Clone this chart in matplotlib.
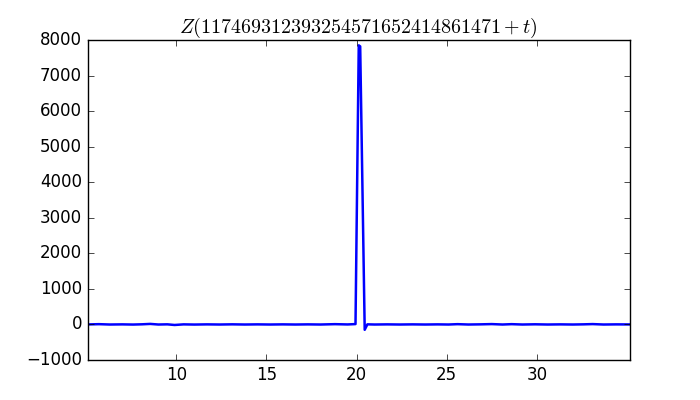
import matplotlib
matplotlib.use("Agg")
import matplotlib.pyplot as plt

plt.style.use("classic")

t = [5.07, 5.7, 6.3, 7.0, 7.6, 8.1, 8.55, 9.0, 9.5, 9.9, 10.4, 11.0, 11.7, 12.4, 13.1,
     13.8, 14.5, 15.2, 15.9, 16.6, 17.3, 18.0, 18.8, 19.5, 19.94, 20.12, 20.2, 20.45,
     20.6, 21.0, 21.7, 22.4, 23.1, 23.8, 24.5, 25.1, 25.6, 26.2, 26.9, 27.5, 28.1, 28.6,
     29.2, 29.9, 30.6, 31.3, 32.0, 32.6, 33.1, 33.7, 34.4, 35.17]
z = [0, 8, -2, 2, -3, 4, 15, -2, 3, -15, 2, -3, 2, -2, 3,
     -2, 2, -2, 2, -2, 2, -2, 8, 0, 10, 7850, 7820, -150,
     3, -2, 2, -2, 2, -2, 2, -2, 8, -2, 3, 10, -2, 8,
     -2, 4, -2, 2, -2, 3, 10, -2, 2, 0]

fig = plt.figure(figsize=(7, 4), dpi=100)
ax = fig.add_subplot(111)
ax.plot(t, z, color="b", linewidth=1.8)
ax.set_xlim(t[0], t[-1])
ax.set_ylim(-1000, 8000)
ax.set_xticks([10, 15, 20, 25, 30])
ax.set_yticks(range(-1000, 8001, 1000))
ax.set_title(r"$Z(117469312393254571652414861471+t)$")
fig.savefig("out.png", dpi=100)
